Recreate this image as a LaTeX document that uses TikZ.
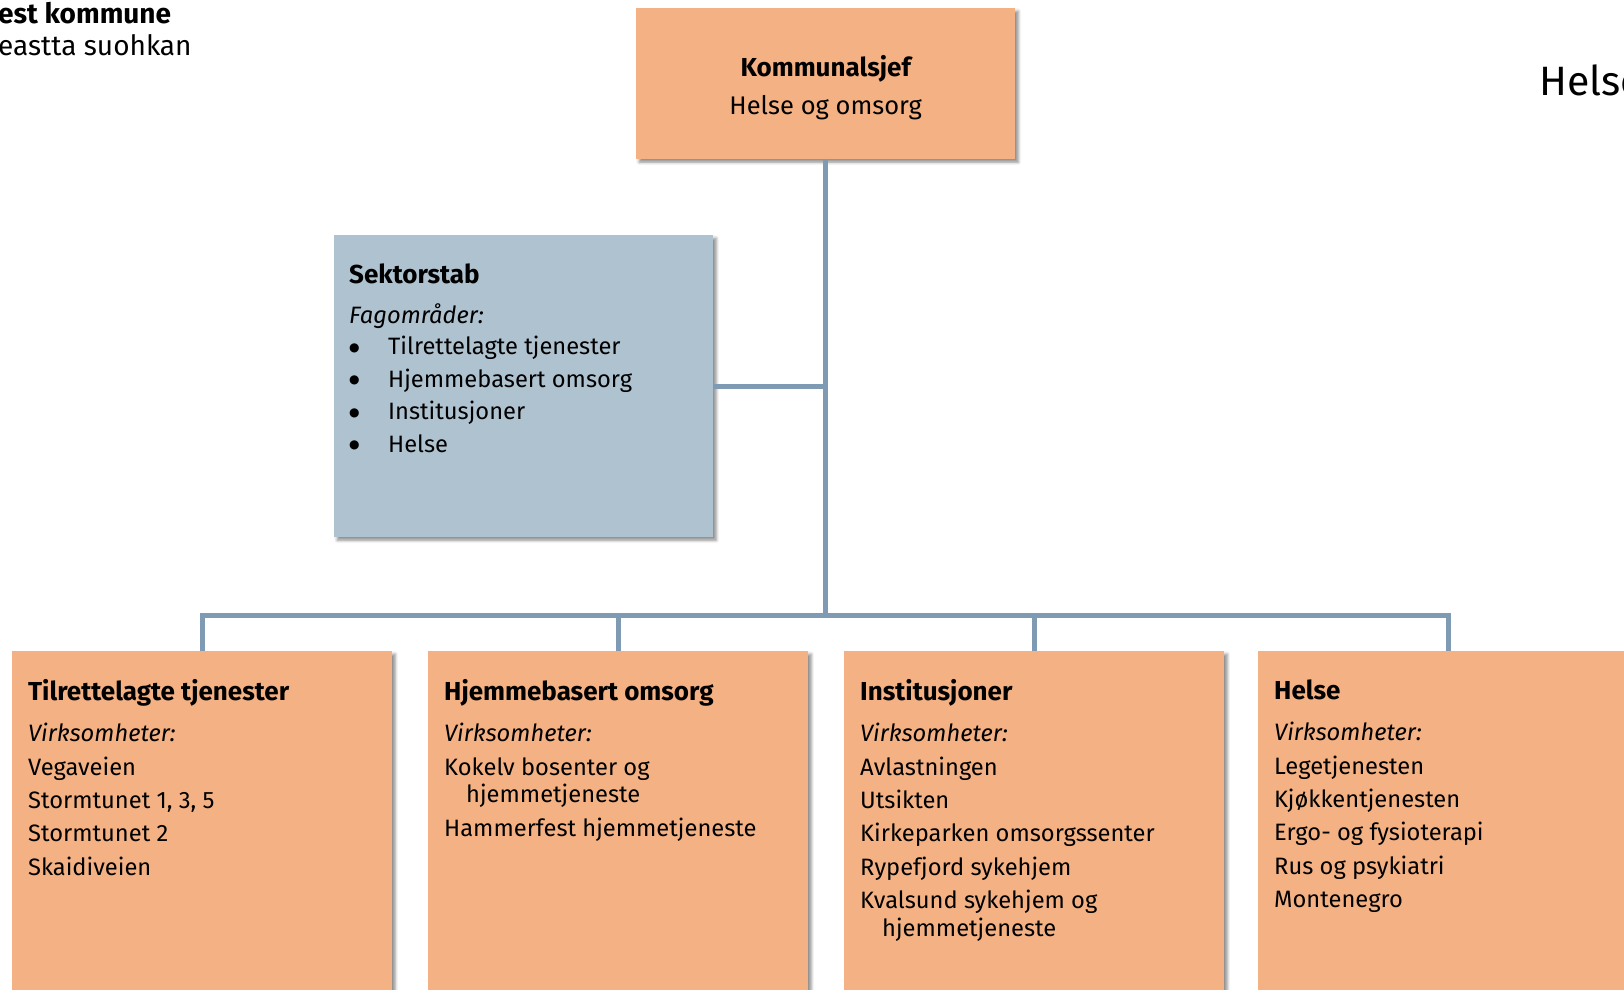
\documentclass[tikz,border=0pt]{standalone}
\usepackage{fontspec}
\setmainfont{Fira Sans}
\newfontfamily\dejavu{DejaVu Sans}
\usetikzlibrary{shadows.blur}
\definecolor{boxorange}{HTML}{F4B183}
\definecolor{boxblue}{HTML}{AFC2D0}
\definecolor{linec}{HTML}{7F9AB3}
\tikzset{
  shadowed/.style={blur shadow={shadow xshift=3pt, shadow yshift=-3pt, shadow blur radius=3pt, shadow opacity=45}},
  orgbox/.style={fill=boxorange, draw=none, inner sep=0pt, minimum width=380pt, minimum height=360pt, anchor=north west, shadowed},
  topbox/.style={fill=boxorange, draw=none, inner sep=0pt, minimum width=379pt, minimum height=151pt, anchor=north west, shadowed},
  stabbox/.style={fill=boxblue, draw=none, inner sep=0pt, minimum width=379pt, minimum height=302pt, anchor=north west, shadowed},
  txt/.style={anchor=north west, inner sep=0pt, align=left, font=\fontsize{23.7}{33.3}\selectfont},
  conn/.style={draw=linec, line width=5pt, line join=miter}
}
\newcommand{\fstrut}{\rule{0pt}{20pt}}
\newcommand{\ttl}[1]{{\fontsize{26}{33.3}\selectfont\bfseries #1}}
\newcommand{\bul}{\makebox[39pt][l]{\raisebox{3.5pt}{\dejavu\fontsize{12}{12}\selectfont ●}}}
\begin{document}
\begin{tikzpicture}[x=1pt,y=-1pt]
\useasboundingbox (0,0) rectangle (1624,989);
\clip (0,0) rectangle (1624,989);

% header texts
\node[anchor=base west, inner sep=0pt, font=\fontsize{28}{30}\selectfont\bfseries] (hk) at (-2,23) {est kommune};
\node[anchor=base west, inner sep=0pt, font=\fontsize{28}{30}\selectfont] (hs) at (-2,55) {eastta suohkan};
\node[anchor=base west, inner sep=0pt, font=\fontsize{41}{48}\selectfont] (hr) at (1539,95) {Helse};

% boxes
\node[topbox] (kom) at (636,8) {};
\node[stabbox] (sek) at (334,235) {};
\node[orgbox] (tj) at (12,651) {};
\node[orgbox] (hj) at (428,651) {};
\node[orgbox] (in) at (844,651) {};
\node[orgbox] (he) at (1258,651) {};

% connectors
\coordinate (bar) at (824.5,615);
\draw[conn] (kom.south) -- (kom.south |- bar);
\draw[conn] (sek.east) -- (sek.east -| kom.south);
\draw[conn] (tj.north) -- (tj.north |- bar) -- (he.north |- bar) -- (he.north);
\draw[conn] (hj.north) -- (hj.north |- bar);
\draw[conn] (in.north) -- (in.north |- bar);

% texts
\node[inner sep=0pt, align=center, font=\fontsize{25.5}{37.3}\selectfont] (komt) at ([yshift=-4pt]kom.center) {{\fontsize{26}{37.3}\selectfont\bfseries Kommunalsjef}\\Helse og omsorg};

\node[txt, font=\fontsize{23.7}{32.5}\selectfont] (sekt) at ([xshift=15pt,yshift=-28pt]sek.north west)
{\fstrut\ttl{Sektorstab}\\[7.5pt]
\textit{Fagområder:}\\[-0.8pt]
\bul Tilrettelagte tjenester\\
\bul Hjemmebasert omsorg\\
\bul Institusjoner\\
\bul Helse};

\node[txt] (tjt) at ([xshift=16pt,yshift=-28pt]tj.north west)
{\fstrut\ttl{Tilrettelagte tjenester}\\[7.7pt]
\textit{Virksomheter:}\\[0.7pt]
Vegaveien\\
Stormtunet 1, 3, 5\\
Stormtunet 2\\
Skaidiveien};

\node[txt] (hjt) at ([xshift=16pt,yshift=-28pt]hj.north west)
{\fstrut\ttl{Hjemmebasert omsorg}\\[7.7pt]
\textit{Virksomheter:}\\[0.7pt]
Kokelv bosenter og\\[-6pt]
\hspace*{22pt}hjemmetjeneste\\[0.7pt]
Hammerfest hjemmetjeneste};

\node[txt] (int) at ([xshift=16pt,yshift=-28pt]in.north west)
{\fstrut\ttl{Institusjoner}\\[7.7pt]
\textit{Virksomheter:}\\[0.7pt]
Avlastningen\\
Utsikten\\
Kirkeparken omsorgssenter\\
Rypefjord sykehjem\\
Kvalsund sykehjem og\\[-5pt]
\hspace*{22pt}hjemmetjeneste};

\node[txt] (het) at ([xshift=16pt,yshift=-28pt]he.north west)
{\fstrut\ttl{Helse}\\[7.7pt]
\textit{Virksomheter:}\\[0.7pt]
Legetjenesten\\
Kjøkkentjenesten\\
Ergo- og fysioterapi\\
Rus og psykiatri\\
Montenegro};
\end{tikzpicture}
\end{document}
